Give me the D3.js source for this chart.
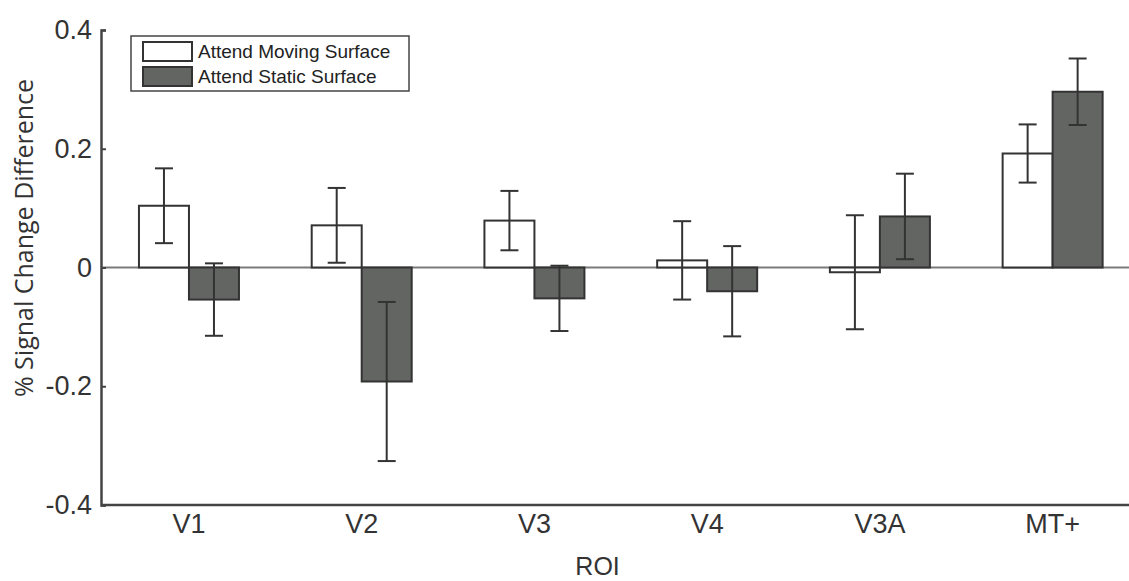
<!DOCTYPE html>
<html>
<head>
<meta charset="utf-8">
<script src="https://cdn.jsdelivr.net/npm/d3@7"></script>
<style>
  body { margin: 0; background: #fff; }
  svg { display: block; font-family: "Liberation Sans", Arial, sans-serif; }
</style>
</head>
<body>
<div id="grafico"></div>
<script>
// Regiones de interés y valores
const regiones = ["V1", "V2", "V3", "V4", "V3A", "MT+"];
const series = ["Attend Moving Surface", "Attend Static Surface"];
const mediaMoving = [0.104, 0.071, 0.079, 0.012, -0.008, 0.192];
const errorMoving = [0.063, 0.063, 0.050, 0.066, 0.096, 0.049];
const mediaStatic = [-0.054, -0.192, -0.052, -0.040, 0.086, 0.296];
const errorStatic = [0.061, 0.134, 0.055, 0.076, 0.072, 0.056];
const ticksY = [-0.4, -0.2, 0, 0.2, 0.4];

const ancho = 1129;
const alto = 581;
const margen = { top: 30, right: -10, bottom: 76, left: 101 };

const svg = d3.select("#grafico")
    .append("svg")
    .attr("width", ancho)
    .attr("height", alto);

// Escalas
const escalaX = d3.scaleBand()
    .domain(regiones)
    .range([margen.left + 1.6, ancho - margen.right]);

const escalaSerie = d3.scaleBand()
    .domain(series)
    .range([0, 100]);

const escalaY = d3.scaleLinear()
    .domain([-0.4, 0.4])
    .range([alto - margen.bottom, margen.top]);

const colores = d3.scaleOrdinal()
    .domain(series)
    .range(["#ffffff", "#636563"]);

// Datos combinados por barra
const barras = regiones.flatMap((r, i) => [
    { region: r, serie: series[0], valor: mediaMoving[i], error: errorMoving[i] },
    { region: r, serie: series[1], valor: mediaStatic[i], error: errorStatic[i] }
]);

const xBarra = d => escalaX(d.region) + escalaX.bandwidth() / 2 - 50 + escalaSerie(d.serie);

// Linea del cero
svg.append("line")
    .attr("x1", margen.left)
    .attr("x2", ancho)
    .attr("y1", escalaY(0))
    .attr("y2", escalaY(0))
    .attr("stroke", "#7a7a7a")
    .attr("stroke-width", 2);

// Barras
svg.selectAll(".barra")
    .data(barras)
    .enter()
    .append("rect")
    .attr("class", "barra")
    .attr("x", xBarra)
    .attr("width", escalaSerie.bandwidth())
    .attr("y", d => escalaY(Math.max(0, d.valor)))
    .attr("height", d => Math.abs(escalaY(d.valor) - escalaY(0)))
    .attr("fill", d => colores(d.serie))
    .attr("stroke", "#333")
    .attr("stroke-width", 2);

// Barras de error
const errores = svg.selectAll(".error")
    .data(barras)
    .enter()
    .append("g")
    .attr("class", "error")
    .attr("stroke", "#333")
    .attr("stroke-width", 2);

errores.append("line")
    .attr("x1", d => xBarra(d) + escalaSerie.bandwidth() / 2)
    .attr("x2", d => xBarra(d) + escalaSerie.bandwidth() / 2)
    .attr("y1", d => escalaY(d.valor + d.error))
    .attr("y2", d => escalaY(d.valor - d.error));

[1, -1].forEach(signo => {
    errores.append("line")
        .attr("x1", d => xBarra(d) + escalaSerie.bandwidth() / 2 - 9)
        .attr("x2", d => xBarra(d) + escalaSerie.bandwidth() / 2 + 9)
        .attr("y1", d => escalaY(d.valor + signo * d.error))
        .attr("y2", d => escalaY(d.valor + signo * d.error));
});

// Ejes
const ejeY = svg.append("g")
    .attr("transform", `translate(${margen.left},0)`)
    .call(d3.axisLeft(escalaY).tickValues(ticksY).tickSize(-5).tickPadding(9)
        .tickFormat(d => d === 0 ? "0" : d3.format(".1f")(d).replace("\u2212", "-")));
ejeY.select(".domain").attr("stroke", "#444").attr("stroke-width", 2.5);
ejeY.selectAll(".tick line").attr("stroke", "#444").attr("stroke-width", 2);
ejeY.selectAll("text")
    .attr("fill", "#333")
    .style("font-size", "27px")
    .style("font-family", "Liberation Sans, Arial, sans-serif");

const ejeX = svg.append("g")
    .attr("transform", `translate(0,${alto - margen.bottom})`)
    .call(d3.axisBottom(escalaX).tickSize(0).tickPadding(9));
ejeX.select(".domain")
    .attr("d", `M${margen.left},0H${ancho}`)
    .attr("stroke", "#444").attr("stroke-width", 2.5);
ejeX.selectAll("text")
    .attr("fill", "#333")
    .style("font-size", "27px")
    .style("font-family", "Liberation Sans, Arial, sans-serif");

// Titulos de ejes
svg.append("text")
    .attr("x", escalaX.range()[0] + 495)
    .attr("y", 575)
    .attr("text-anchor", "middle")
    .attr("fill", "#333")
    .style("font-size", "25px")
    .text("ROI");

svg.append("text")
    .attr("transform", "translate(33,238) rotate(-90)")
    .attr("text-anchor", "middle")
    .attr("fill", "#333")
    .style("font-size", "25px")
    .style("font-family", "Open Sans, Liberation Sans, sans-serif")
    .text("% Signal Change Difference");

// Leyenda
const leyenda = svg.append("g")
    .attr("transform", "translate(131,36)");

leyenda.append("rect")
    .attr("width", 278)
    .attr("height", 55)
    .attr("fill", "#fff")
    .attr("stroke", "#444")
    .attr("stroke-width", 1.5);

const itemsLeyenda = leyenda.selectAll(".item")
    .data(series)
    .enter()
    .append("g")
    .attr("class", "item")
    .attr("transform", (d, i) => `translate(12,${6 + i * 25})`);

itemsLeyenda.append("rect")
    .attr("width", 49)
    .attr("height", 19)
    .attr("fill", d => colores(d))
    .attr("stroke", "#333")
    .attr("stroke-width", 2);

itemsLeyenda.append("text")
    .attr("x", 55)
    .attr("y", 16)
    .attr("fill", "#222")
    .style("font-size", "19px")
    .text(d => d);
</script>
</body>
</html>
